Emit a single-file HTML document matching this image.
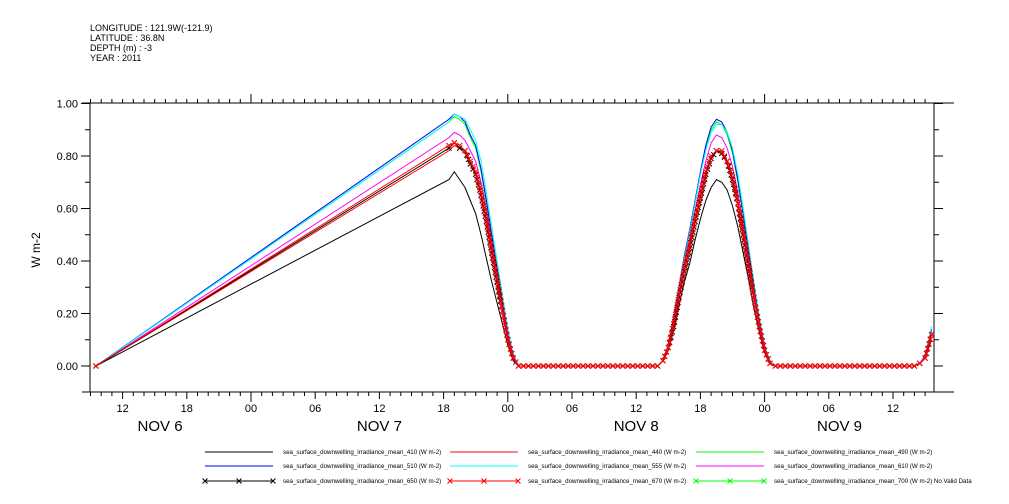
<!DOCTYPE html>
<html><head><meta charset="utf-8"><style>
body{margin:0;background:#fff;width:1009px;height:504px;overflow:hidden}
svg{display:block;font-family:"Liberation Sans",sans-serif}
</style></head><body>
<svg id="c" width="1009" height="504" viewBox="0 0 1009 504">
<g font-size="9" fill="#000">
<text x="90" y="31">LONGITUDE : 121.9W(-121.9)</text>
<text x="90" y="41">LATITUDE : 36.8N</text>
<text x="90" y="51">DEPTH (m) : -3</text>
<text x="90" y="61">YEAR : 2011</text>
</g>
<g id="axes"></g>
<g id="series"></g>
<g id="legend"></g>
</svg>
<script>
// hours since Nov 6 00:00
const times=[9.5,42.5,43,43.5,44,44.5,45,45.5,46,46.5,47,47.5,48,48.5,49,
62,62.5,63,63.5,64,64.5,65,65.5,66,66.5,67,67.5,68,68.5,69,69.5,70,70.5,71,71.5,72,72.5,73,
86,86.5,87,87.6];
const s410=[0,0.71,0.74,0.71,0.68,0.63,0.58,0.50,0.41,0.32,0.24,0.16,0.08,0.02,0, 0,0.02,0.06,0.14,0.23,0.32,0.39,0.48,0.56,0.63,0.68,0.71,0.70,0.67,0.61,0.53,0.43,0.33,0.22,0.13,0.05,0.01,0, 0,0.01,0.03,0.10];
const s440=[0,0.82,0.84,0.83,0.81,0.77,0.73,0.65,0.55,0.44,0.32,0.21,0.10,0.03,0, 0,0.02,0.07,0.16,0.26,0.37,0.45,0.55,0.64,0.73,0.79,0.82,0.81,0.77,0.71,0.62,0.50,0.38,0.26,0.15,0.06,0.01,0, 0,0.01,0.03,0.12];
const s490=[0,0.93,0.95,0.94,0.92,0.87,0.83,0.74,0.62,0.50,0.37,0.24,0.12,0.04,0, 0,0.02,0.08,0.18,0.30,0.42,0.51,0.62,0.73,0.83,0.90,0.93,0.92,0.88,0.81,0.70,0.57,0.44,0.30,0.17,0.07,0.01,0, 0,0.01,0.04,0.14];
const s510=[0,0.94,0.96,0.95,0.93,0.88,0.84,0.75,0.63,0.50,0.37,0.24,0.12,0.04,0, 0,0.02,0.08,0.18,0.30,0.42,0.52,0.63,0.74,0.84,0.91,0.94,0.93,0.89,0.82,0.71,0.58,0.44,0.30,0.17,0.07,0.01,0, 0,0.01,0.04,0.14];
const s555=[0,0.93,0.96,0.95,0.94,0.90,0.86,0.78,0.66,0.53,0.40,0.27,0.14,0.05,0, 0,0.02,0.08,0.17,0.29,0.41,0.51,0.62,0.73,0.82,0.89,0.92,0.92,0.89,0.83,0.73,0.60,0.46,0.32,0.19,0.08,0.02,0, 0,0.01,0.04,0.15];
const s610=[0,0.87,0.89,0.88,0.86,0.82,0.78,0.70,0.59,0.47,0.34,0.22,0.11,0.04,0, 0,0.02,0.07,0.17,0.28,0.39,0.48,0.59,0.69,0.78,0.85,0.88,0.87,0.83,0.76,0.66,0.54,0.41,0.28,0.16,0.07,0.01,0, 0,0.01,0.04,0.13];
const s650=[0,0.83,0.85,0.83,0.82,0.77,0.73,0.65,0.55,0.43,0.32,0.21,0.10,0.03,0, 0,0.02,0.07,0.15,0.26,0.36,0.45,0.55,0.64,0.73,0.79,0.82,0.81,0.78,0.71,0.62,0.50,0.38,0.26,0.15,0.06,0.01,0, 0,0.01,0.03,0.12];
const s670=[0,0.84,0.85,0.84,0.82,0.78,0.74,0.66,0.56,0.44,0.33,0.21,0.10,0.03,0, 0,0.02,0.07,0.16,0.27,0.37,0.46,0.56,0.65,0.74,0.80,0.82,0.82,0.78,0.72,0.62,0.51,0.39,0.26,0.15,0.06,0.01,0, 0,0.01,0.03,0.12];
const yTicks=[0,0.2,0.4,0.6,0.8,1.0];
const yTickLabels=["0.00","0.20","0.40","0.60","0.80","1.00"];
const hourLabels=["12","18","00","06","12","18","00","06","12","18","00","06","12"];
const hourTicks=[12,18,24,30,36,42,48,54,60,66,72,78,84];
const dayLabels=["NOV  6","NOV  7","NOV  8","NOV  9"];
const dayCenters=[15.5,36,60,79];

const NS="http://www.w3.org/2000/svg";
const L=90,R=934,T=103,B=392;
const X=t=>251+(t-24)*10.7;
const Y=v=>366-v*262.5;
function mk(p,tag,at){const e=document.createElementNS(NS,tag);for(const k in at)e.setAttribute(k,at[k]);p.appendChild(e);return e;}
const ax=document.getElementById('axes');
// box
let r=mk(ax,'rect',{x:L,y:T,width:R-L,height:B-T,fill:'none',stroke:'#000','stroke-width':1});


mk(ax,'line',{x1:82,y1:B,x2:954,y2:B,stroke:'#000'});
mk(ax,'line',{x1:82,y1:T,x2:954,y2:T,stroke:'#000'});
// x ticks hourly
for(let h=9;h<=88;h++){const x=X(h);if(x<L||x>R)continue;const maj=h%6===0;
mk(ax,'line',{x1:x,y1:B,x2:x,y2:B+(maj?(h%24===0?10:7):4),stroke:'#000'});
mk(ax,'line',{x1:x,y1:T,x2:x,y2:T-(h%24===0?9:4),stroke:'#000'});}
hourTicks.forEach((h,i)=>{const t=mk(ax,'text',{x:X(h),y:412,'font-size':11,'text-anchor':'middle'});t.textContent=hourLabels[i];

});
dayLabels.forEach((d,i)=>{const t=mk(ax,'text',{x:X(dayCenters[i]),y:431,'font-size':15,'text-anchor':'middle','xml:space':'preserve'});t.textContent=d;

});
// y ticks
for(let k=-1;k<=10;k++){const v=k/10,y=Y(v);if(y>B||y<T-1)continue;const maj=k%2===0;
mk(ax,'line',{x1:L-(maj?9:5),y1:y,x2:L,y2:y,stroke:'#000'});
mk(ax,'line',{x1:R,y1:y,x2:R+(maj?9:5),y2:y,stroke:'#000'});}
yTicks.forEach((v,i)=>{const t=mk(ax,'text',{x:78,y:Y(v)+4,'font-size':11,'text-anchor':'end'});t.textContent=yTickLabels[i];

});
let yt=mk(ax,'text',{x:40,y:250,'font-size':12,'text-anchor':'middle',transform:'rotate(-90 40 250)'});yt.textContent='W m-2';



const series=[
{d:s410,c:'#000',m:false,n:'410'},{d:s440,c:'#f00',m:false,n:'440'},{d:s490,c:'#0f0',m:false,n:'490'},
{d:s510,c:'#00f',m:false,n:'510'},{d:s555,c:'#0ff',m:false,n:'555'},{d:s610,c:'#f0f',m:false,n:'610'},
{d:s650,c:'#000',m:true,n:'650'},{d:s670,c:'#f00',m:true,n:'670'}];
const sg=document.getElementById('series');
function xmark(g,x,y,c){mk(g,'path',{d:`M${x-2.5},${y-2.5}L${x+2.5},${y+2.5}M${x-2.5},${y+2.5}L${x+2.5},${y-2.5}`,stroke:c,'stroke-width':1});}
series.forEach(s=>{
const pts=times.map((t,i)=>[X(t),Y(s.d[i])]);
const g=mk(sg,'g',{});


mk(g,'polyline',{points:pts.map(p=>p.join(',')).join(' '),fill:'none',stroke:s.c,'stroke-width':1});
if(s.m){
// markers along the curve every ~5px (skip first long ramp segment)
for(let i=1;i<pts.length-1;i++){const [x0,y0]=pts[i],[x1,y1]=pts[i+1];const len=Math.hypot(x1-x0,y1-y0);const n=Math.max(1,Math.round(len/5));
for(let k=0;k<n;k++){xmark(g,x0+(x1-x0)*k/n,y0+(y1-y0)*k/n,s.c);}}
xmark(g,pts[0][0],pts[0][1],s.c);xmark(g,pts[pts.length-1][0],pts[pts.length-1][1],s.c);}
});

const lg=document.getElementById('legend');
const leg=[
['#000',false,'sea_surface_downwelling_irradiance_mean_410 (W m-2)'],['#f00',false,'sea_surface_downwelling_irradiance_mean_440 (W m-2)'],['#0f0',false,'sea_surface_downwelling_irradiance_mean_490 (W m-2)'],
['#00f',false,'sea_surface_downwelling_irradiance_mean_510 (W m-2)'],['#0ff',false,'sea_surface_downwelling_irradiance_mean_555 (W m-2)'],['#f0f',false,'sea_surface_downwelling_irradiance_mean_610 (W m-2)'],
['#000',true,'sea_surface_downwelling_irradiance_mean_650 (W m-2)'],['#f00',true,'sea_surface_downwelling_irradiance_mean_670 (W m-2)'],['#0f0',true,'sea_surface_downwelling_irradiance_mean_700 (W m-2) No Valid Data']];
const colX=[205,450,696],rowY=[452,466,481];
leg.forEach((e,i)=>{const x=colX[i%3],y=rowY[Math.floor(i/3)];
const g=mk(lg,'g',{});


mk(g,'line',{x1:x,y1:y,x2:x+68,y2:y,stroke:e[0]});
if(e[1]){[0,34,68].forEach(d=>xmark(g,x+d,y,e[0]));}
const t=mk(g,'text',{x:x+78,y:y+2,'font-size':6.2});t.textContent=e[2];});
</script>
</body></html>
